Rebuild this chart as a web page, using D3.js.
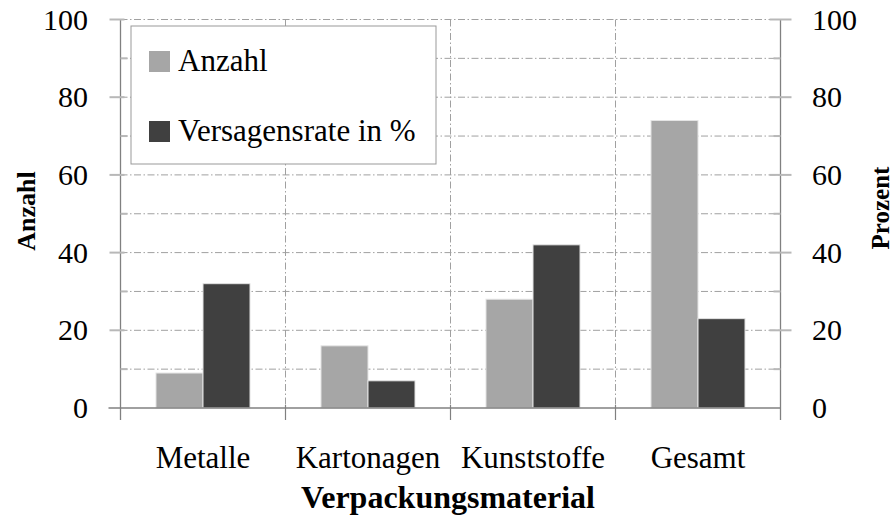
<!DOCTYPE html>
<html lang='de'>
<head>
  <meta charset="utf-8"/>
  <title>Versagensrate</title>
  <script src="https://d3js.org/d3.v7.min.js"></script>
  <style>
    body { margin: 0; background: #fff; }
    text { font-family: 'Liberation Serif', 'DejaVu Serif', serif; fill: #000; }
  </style>
</head>
<body>
  <div id='chart'></div>
  <script>
    var categories = ['Metalle', 'Kartonagen', 'Kunststoffe', 'Gesamt'];
    var seriesNames = ['Anzahl', 'Versagensrate in %'];
    var anzahl = [9, 16, 28, 74];
    var versagensrate = [32, 7, 42, 23];
    var majorTicks = [0, 20, 40, 60, 80, 100];
    var minorTicks = [10, 30, 50, 70, 90];
    var colors = ['#a6a6a6', '#404040'];

    var width = 894, height = 526;
    // careful: "top" is window.top, so use plot* names
    var plotLeft = 120.5, plotRight = 780.5, plotTop = 19.5, plotBottom = 408;

    var svg = d3.select('#chart').append('svg')
      .attr('width', width)
      .attr('height', height);

    var x = d3.scaleBand().domain(categories).range([plotLeft, plotRight]).padding(0);
    var xInner = d3.scaleBand().domain(seriesNames).range([0, x.bandwidth()])
      .paddingInner(0).paddingOuter(0.755);
    var yLeft = d3.scaleLinear().domain([0, 100]).range([plotBottom, plotTop]);
    var yRight = d3.scaleLinear().domain([0, 100]).range([plotBottom, plotTop]);

    var dashes = '7,2.5,1.5,2.5';
    var gridColor = '#a0a0a0';

    // horizontal grid, every 10
    svg.append('g').selectAll('line')
      .data(majorTicks.concat(minorTicks).filter(function(d){ return d > 0; }))
      .enter().append('line')
      .attr('x1', plotLeft).attr('x2', plotRight)
      .attr('y1', function(d){ return yLeft(d); })
      .attr('y2', function(d){ return yLeft(d); })
      .attr('stroke', gridColor).attr('stroke-width', 1)
      .attr('stroke-dasharray', dashes);

    // vertical grid between categories
    var boundaries = categories.slice(1).map(function(c){ return x(c); });
    svg.append('g').selectAll('line')
      .data(boundaries)
      .enter().append('line')
      .attr('x1', function(d){ return d; }).attr('x2', function(d){ return d; })
      .attr('y1', plotTop).attr('y2', plotBottom)
      .attr('stroke', gridColor).attr('stroke-width', 1)
      .attr('stroke-dasharray', dashes);

    // bars
    var rows = categories.map(function(c, i){
      return { cat: c, values: [anzahl[i], versagensrate[i]] };
    });
    var groups = svg.append('g').selectAll('g')
      .data(rows).enter().append('g')
      .attr('transform', function(d){ return 'translate(' + x(d.cat) + ',0)'; });
    groups.selectAll('rect')
      .data(function(d){ return d.values.map(function(v, j){ return { name: seriesNames[j], value: v, j: j }; }); })
      .enter().append('rect')
      .attr('x', function(d){ return xInner(d.name); })
      .attr('width', xInner.bandwidth())
      .attr('y', function(d){ return d.j == 0 ? yLeft(d.value) : yRight(d.value); })
      .attr('height', function(d){ return plotBottom - (d.j == 0 ? yLeft(d.value) : yRight(d.value)); })
      .attr('fill', function(d){ return colors[d.j]; })
      .attr('stroke', '#e4e4e4').attr('stroke-width', 1);

    // axes
    var axisColor = '#808080';
    var tickColor = '#b8b8b8';
    var ax = svg.append('g');
    ax.append('line').attr('x1', plotLeft).attr('x2', plotLeft).attr('y1', plotTop).attr('y2', plotBottom + 12)
      .attr('stroke', axisColor).attr('stroke-width', 1.3);
    ax.append('line').attr('x1', plotRight).attr('x2', plotRight).attr('y1', plotTop).attr('y2', plotBottom + 12)
      .attr('stroke', axisColor).attr('stroke-width', 1.3);
    ax.append('line').attr('x1', plotLeft - 12).attr('x2', plotRight).attr('y1', plotBottom).attr('y2', plotBottom)
      .attr('stroke', axisColor).attr('stroke-width', 1.3);

    // bottom ticks at boundaries
    ax.selectAll('.bt').data(boundaries).enter().append('line')
      .attr('x1', function(d){ return d; }).attr('x2', function(d){ return d; })
      .attr('y1', plotBottom - 3).attr('y2', plotBottom + 12)
      .attr('stroke', axisColor).attr('stroke-width', 1.2);

    // left and right ticks
    majorTicks.filter(function(d){ return d > 0; }).forEach(function(t){
      ax.append('line').attr('x1', plotLeft - 11).attr('x2', plotLeft + 4)
        .attr('y1', yLeft(t)).attr('y2', yLeft(t))
        .attr('stroke', tickColor).attr('stroke-width', 2);
      ax.append('line').attr('x1', plotRight - 11).attr('x2', plotRight + 11)
        .attr('y1', yRight(t)).attr('y2', yRight(t))
        .attr('stroke', tickColor).attr('stroke-width', 2);
    });
    minorTicks.forEach(function(t){
      ax.append('line').attr('x1', plotLeft).attr('x2', plotLeft + 7)
        .attr('y1', yLeft(t)).attr('y2', yLeft(t))
        .attr('stroke', tickColor).attr('stroke-width', 2);
      ax.append('line').attr('x1', plotRight - 7).attr('x2', plotRight)
        .attr('y1', yRight(t)).attr('y2', yRight(t))
        .attr('stroke', tickColor).attr('stroke-width', 2);
    });

    // tick labels
    svg.append('g').selectAll('text').data(majorTicks).enter().append('text')
      .attr('x', 88).attr('y', function(d){ return yLeft(d) + 10; })
      .attr('text-anchor', 'end').style('font-size', '30px')
      .text(function(d){ return d; });
    svg.append('g').selectAll('text').data(majorTicks).enter().append('text')
      .attr('x', 812).attr('y', function(d){ return yRight(d) + 10; })
      .attr('text-anchor', 'start').style('font-size', '30px')
      .text(function(d){ return d; });

    svg.append('g').selectAll('text').data(categories).enter().append('text')
      .attr('x', function(d){ return x(d) + x.bandwidth() / 2; })
      .attr('y', 468)
      .attr('text-anchor', 'middle').style('font-size', '31px')
      .text(function(d){ return d; });

    // axis titles
    svg.append('text').attr('x', 448).attr('y', 508)
      .attr('text-anchor', 'middle').style('font-size', '32px').style('font-weight', 'bold')
      .text('Verpackungsmaterial');
    svg.append('text').attr('transform', 'translate(35,211) rotate(-90)')
      .attr('text-anchor', 'middle').style('font-size', '26px').style('font-weight', 'bold')
      .text('Anzahl');
    svg.append('text').attr('transform', 'translate(889,208) rotate(-90)')
      .attr('text-anchor', 'middle').style('font-size', '25px').style('font-weight', 'bold')
      .text('Prozent');

    // legend
    var legend = svg.append('g');
    legend.append('rect').attr('x', 131).attr('y', 26).attr('width', 305).attr('height', 138)
      .attr('fill', '#fff').attr('stroke', '#999').attr('stroke-width', 1);
    seriesNames.forEach(function(name, i){
      legend.append('rect').attr('x', 149).attr('y', 51 + i * 70).attr('width', 21).attr('height', 21)
        .attr('fill', colors[i]);
      legend.append('text').attr('x', 178).attr('y', 71 + i * 70)
        .style('font-size', '31px').text(name);
    });
  </script>
</body>
</html>
